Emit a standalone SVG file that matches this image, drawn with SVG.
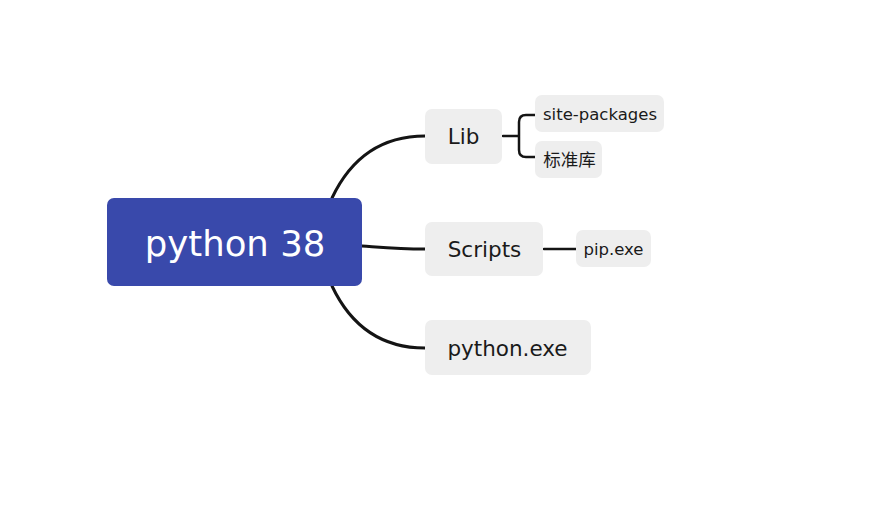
<svg xmlns="http://www.w3.org/2000/svg" width="880" height="510" viewBox="0 0 880 510">
<style>
.node{fill:#eeeeee}
.t{font-family:"DejaVu Sans","Noto Sans CJK SC",sans-serif;fill:#1a1a1a;text-anchor:middle}
.l1{font-size:21.5px}
.l2{font-size:16.5px}
.c{fill:none;stroke:#141414;stroke-width:3;stroke-linecap:round}
.c2{fill:none;stroke:#141414;stroke-width:2.5;stroke-linecap:round}
</style>
<rect width="880" height="510" fill="#ffffff"/>
<g id="connectors">
<path class="c" d="M332,198 C350,160 380,136 425,136"/>
<path class="c" d="M362,246 C390,248 400,249 425,249"/>
<path class="c" d="M332,286 C350,324 380,348 425,348"/>
<path class="c2" d="M503,136 L519,136 M535,115 L526,115 Q519,115 519,122 L519,150 Q519,157 526,157 L535,157"/>
<path class="c2" d="M544,249 L576,249"/>
</g>
<g id="root">
<rect x="107" y="198" width="255" height="88" rx="7" fill="#3949ab"/>
<text x="235" y="256" font-family="'DejaVu Sans',sans-serif" font-size="35.5" fill="#ffffff" text-anchor="middle">python 38</text>
</g>
<g id="lib">
<rect class="node" x="425" y="109" width="77" height="55" rx="7"/>
<text class="t l1" x="463.5" y="144">Lib</text>
</g>
<g id="site-packages">
<rect class="node" x="535" y="95" width="129" height="37" rx="7"/>
<text class="t l2" x="600" y="120">site-packages</text>
</g>
<g id="stdlib">
<rect class="node" x="535" y="141" width="67" height="37" rx="7"/>
<text class="t" x="569.5" y="166" font-size="17.5">标准库</text>
</g>
<g id="scripts">
<rect class="node" x="425" y="222" width="118" height="54" rx="7"/>
<text class="t l1" x="484.5" y="257">Scripts</text>
</g>
<g id="pip">
<rect class="node" x="576" y="230" width="75" height="37" rx="7"/>
<text class="t l2" x="613.5" y="255">pip.exe</text>
</g>
<g id="python-exe">
<rect class="node" x="425" y="320" width="166" height="55" rx="7"/>
<text class="t l1" x="507.5" y="356">python.exe</text>
</g>
</svg>
